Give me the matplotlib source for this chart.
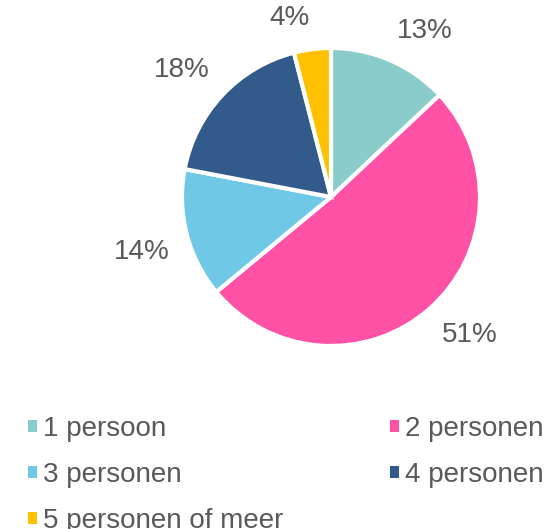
import numpy as np
import matplotlib.pyplot as plt
from matplotlib.patches import Patch

plt.rcParams['font.family'] = ['Liberation Sans', 'DejaVu Sans']

categories = ["1 persoon", "2 personen", "3 personen", "4 personen", "5 personen of meer"]
shares = [13, 51, 14, 18, 4]
colors = ["#8ACCC9", "#FF52A6", "#6FC8E6", "#325A8A", "#FFC000"]
text_color = "#595959"

W, H = 553, 529
fig = plt.figure(figsize=(W / 100, H / 100), dpi=100)
# pie centre ~ (331, 197) px, radius ~149 px
ax = fig.add_axes([182 / W, (H - 346) / H, 298 / W, 298 / H])
wedges, texts, autotexts = ax.pie(
    shares, colors=colors, startangle=90, counterclock=False,
    autopct=lambda p: "{:.0f}%".format(p),
    wedgeprops=dict(edgecolor="white", linewidth=3),
    textprops=dict(color=text_color, fontsize=20))
ax.set_xlim(-1, 1)
ax.set_ylim(-1, 1)
ax.set_aspect("equal")

# "outside end" labels: nearest corner of the text just outside the arc
gap = 1.12
for w, t in zip(wedges, autotexts):
    ang = np.deg2rad((w.theta1 + w.theta2) / 2)
    c, s = np.cos(ang), np.sin(ang)
    t.set_position((gap * c, gap * s))
    t.set_ha("left" if c > 0.1 else ("right" if c < -0.1 else "center"))
    t.set_va("bottom" if s > 0 else "top")

# legend filled row-wise like the original (matplotlib fills column-wise)
order = [0, 2, 4, 1, 3]
handles = [Patch(facecolor=colors[i], edgecolor="none") for i in order]
labels = [categories[i] for i in order]
leg = fig.legend(handles, labels, ncol=2, loc="upper left",
                 bbox_to_anchor=(28 / W, 1 - 416 / H),
                 frameon=False, fontsize=20, borderpad=0, borderaxespad=0,
                 handlelength=0.33, handleheight=0.33, handletextpad=0.2,
                 columnspacing=3.85, labelspacing=0.72)
for t in leg.get_texts():
    t.set_color(text_color)

fig.savefig("out.png", dpi=100)
